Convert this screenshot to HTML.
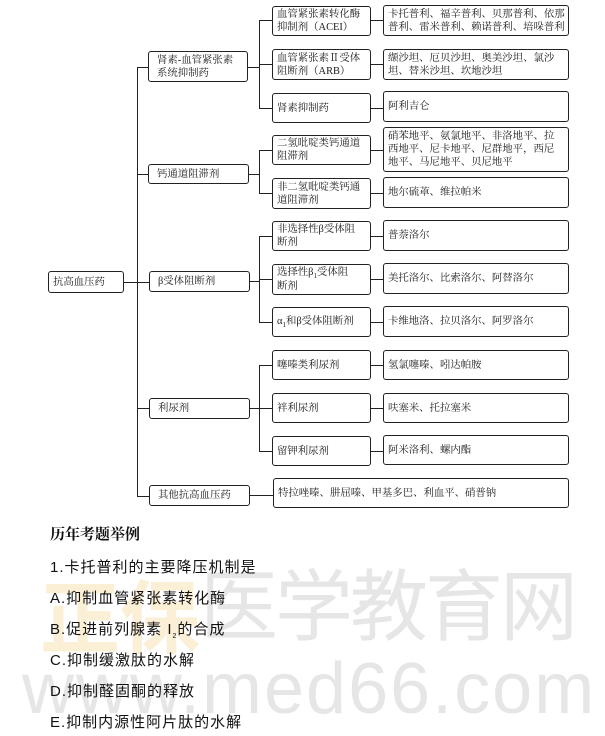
<!DOCTYPE html>
<html><head><meta charset="utf-8"><style>
body{margin:0;width:605px;height:736px;background:#fff;position:relative;overflow:hidden;font-family:"Liberation Serif","Noto Serif CJK SC",serif;color:#1a1a1a}
.b{position:absolute;border:1.5px solid #222;border-radius:3px;box-sizing:border-box;font-size:10.4px;line-height:13px;display:flex;align-items:center;padding:0 3px 0 4px;background:#fff;white-space:nowrap;overflow:visible}
.b span.s{font-size:7px;position:relative;top:3px}
.h{position:absolute;height:0;border-top:1.3px solid #222}
.v{position:absolute;width:0;border-left:1.3px solid #222}
.q{position:absolute;left:50px;font-family:"Liberation Sans","Noto Sans CJK SC",sans-serif;font-size:15px;letter-spacing:1px;color:#111;white-space:nowrap}
.wm{position:absolute;font-family:"Liberation Sans","Noto Sans CJK SC",sans-serif;white-space:nowrap}
</style></head><body>
<div class="wm" style="left:40px;top:555px;font-size:80px;color:#fbefd6;font-weight:bold">正保</div>
<div class="wm" style="left:200px;top:545px;font-size:78px;color:#e6e6e6;letter-spacing:-3px">医学教育网</div>
<div class="wm" style="left:22px;top:648px;font-size:72px;color:#e6e6e6;letter-spacing:2px">www.med66.com</div>

<div class="h" style="left:123px;top:282px;width:26px"></div>
<div class="v" style="left:137px;top:67px;height:430px"></div>
<div class="h" style="left:137px;top:67px;width:12px"></div>
<div class="h" style="left:137px;top:174px;width:12px"></div>
<div class="h" style="left:137px;top:408px;width:12px"></div>
<div class="h" style="left:137px;top:496px;width:12px"></div>

<div class="h" style="left:247px;top:67px;width:13px"></div>
<div class="v" style="left:259px;top:20px;height:88px"></div>
<div class="h" style="left:259px;top:20px;width:13px"></div>
<div class="h" style="left:259px;top:64px;width:13px"></div>
<div class="h" style="left:259px;top:108px;width:13px"></div>

<div class="h" style="left:247px;top:174px;width:13px"></div>
<div class="v" style="left:259px;top:150px;height:44px"></div>
<div class="h" style="left:259px;top:150px;width:13px"></div>
<div class="h" style="left:259px;top:193px;width:13px"></div>

<div class="h" style="left:249px;top:281px;width:11px"></div>
<div class="v" style="left:259px;top:236px;height:86px"></div>
<div class="h" style="left:259px;top:236px;width:13px"></div>
<div class="h" style="left:259px;top:279px;width:13px"></div>
<div class="h" style="left:259px;top:322px;width:13px"></div>

<div class="h" style="left:249px;top:408px;width:11px"></div>
<div class="v" style="left:259px;top:365px;height:86px"></div>
<div class="h" style="left:259px;top:365px;width:13px"></div>
<div class="h" style="left:259px;top:408px;width:13px"></div>
<div class="h" style="left:259px;top:451px;width:13px"></div>
<div class="h" style="left:249px;top:495px;width:24px"></div>

<div class="h" style="left:371px;top:20px;width:12px"></div>
<div class="h" style="left:371px;top:64px;width:12px"></div>
<div class="h" style="left:371px;top:108px;width:12px"></div>
<div class="h" style="left:371px;top:150px;width:12px"></div>
<div class="h" style="left:371px;top:193px;width:12px"></div>
<div class="h" style="left:371px;top:236px;width:12px"></div>
<div class="h" style="left:371px;top:279px;width:12px"></div>
<div class="h" style="left:371px;top:322px;width:12px"></div>
<div class="h" style="left:371px;top:365px;width:12px"></div>
<div class="h" style="left:371px;top:408px;width:12px"></div>
<div class="h" style="left:371px;top:451px;width:12px"></div>

<div class="b" style="left:48px;top:271px;width:76px;height:22px">抗高血压药</div>
<div class="b" style="left:148px;top:51px;width:100px;height:31px;padding-left:8px">肾素-血管紧张素<br>系统抑制药</div>
<div class="b" style="left:148px;top:164px;width:101px;height:20px;padding-left:8px">钙通道阻滞剂</div>
<div class="b" style="left:149px;top:271px;width:101px;height:21px;padding-left:8px">β受体阻断剂</div>
<div class="b" style="left:149px;top:398px;width:101px;height:21px;padding-left:8px">利尿剂</div>
<div class="b" style="left:149px;top:485px;width:101px;height:21px;padding-left:8px">其他抗高血压药</div>

<div class="b" style="left:272px;top:6px;width:99px;height:30px">血管紧张素转化酶<br>抑制剂（ACEI）</div>
<div class="b" style="left:272px;top:49px;width:99px;height:31px">血管紧张素Ⅱ受体<br>阻断剂（ARB）</div>
<div class="b" style="left:272px;top:93px;width:99px;height:30px">肾素抑制药</div>
<div class="b" style="left:272px;top:135px;width:99px;height:30px">二氢吡啶类钙通道<br>阻滞剂</div>
<div class="b" style="left:272px;top:178px;width:99px;height:31px">非二氢吡啶类钙通<br>道阻滞剂</div>
<div class="b" style="left:272px;top:221px;width:99px;height:30px">非选择性β受体阻<br>断剂</div>
<div class="b" style="left:272px;top:264px;width:99px;height:31px"><div>选择性β<span class="s">1</span>受体阻<br>断剂</div></div>
<div class="b" style="left:272px;top:307px;width:99px;height:30px"><div>α<span class="s">1</span>和β受体阻断剂</div></div>
<div class="b" style="left:272px;top:350px;width:99px;height:30px">噻嗪类利尿剂</div>
<div class="b" style="left:272px;top:393px;width:99px;height:30px">袢利尿剂</div>
<div class="b" style="left:272px;top:436px;width:99px;height:30px">留钾利尿剂</div>

<div class="b" style="left:383px;top:5px;width:186px;height:31px">卡托普利、福辛普利、贝那普利、依那<br>普利、雷米普利、赖诺普利、培哚普利</div>
<div class="b" style="left:383px;top:49px;width:186px;height:31px">缬沙坦、厄贝沙坦、奥美沙坦、氯沙<br>坦、替米沙坦、坎地沙坦</div>
<div class="b" style="left:383px;top:91px;width:186px;height:31px">阿利吉仑</div>
<div class="b" style="left:383px;top:127px;width:186px;height:45px">硝苯地平、氨氯地平、非洛地平、拉<br>西地平、尼卡地平、尼群地平，西尼<br>地平、马尼地平、贝尼地平</div>
<div class="b" style="left:383px;top:177px;width:186px;height:31px">地尔硫䓬、维拉帕米</div>
<div class="b" style="left:383px;top:220px;width:186px;height:31px">普萘洛尔</div>
<div class="b" style="left:383px;top:263px;width:186px;height:31px">美托洛尔、比索洛尔、阿替洛尔</div>
<div class="b" style="left:383px;top:306px;width:186px;height:31px">卡维地洛、拉贝洛尔、阿罗洛尔</div>
<div class="b" style="left:383px;top:350px;width:186px;height:30px">氢氯噻嗪、吲达帕胺</div>
<div class="b" style="left:383px;top:393px;width:186px;height:30px">呋塞米、托拉塞米</div>
<div class="b" style="left:383px;top:435px;width:186px;height:30px">阿米洛利、螺内酯</div>
<div class="b" style="left:273px;top:478px;width:296px;height:30px">特拉唑嗪、肼屈嗪、甲基多巴、利血平、硝普钠</div>

<div class="q" style="top:523px;font-family:'Liberation Serif','Noto Serif CJK SC',serif;font-weight:bold;letter-spacing:0">历年考题举例</div>
<div class="q" style="top:556px">1.卡托普利的主要降压机制是</div>
<div class="q" style="top:587px">A.抑制血管紧张素转化酶</div>
<div class="q" style="top:618px">B.促进前列腺素 I<sub style="font-size:7px">2</sub>的合成</div>
<div class="q" style="top:649px">C.抑制缓激肽的水解</div>
<div class="q" style="top:680px">D.抑制醛固酮的释放</div>
<div class="q" style="top:711px">E.抑制内源性阿片肽的水解</div>
</body></html>
